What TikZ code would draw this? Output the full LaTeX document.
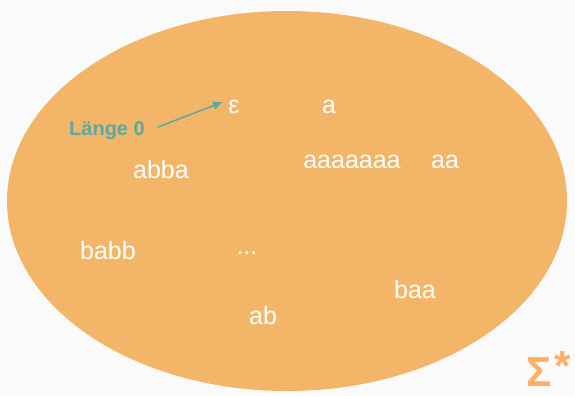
\documentclass[tikz,border=0pt]{standalone}
\usepackage{fontspec}
\setmainfont{Liberation Sans}
\usetikzlibrary{arrows.meta}
\definecolor{bgc}{HTML}{FAFAFA}
\definecolor{setc}{HTML}{F3B567}
\definecolor{tealc}{HTML}{5AA9A2}
\definecolor{sigc}{HTML}{FFAF5F}
\tikzset{
  word/.style={text=white, font=\fontsize{25}{30}\selectfont, inner sep=0pt, anchor=base},
}
\begin{document}
\begin{tikzpicture}[x=1pt,y=-1pt]
\useasboundingbox[fill=bgc] (0,0) rectangle (575,396);
\fill[setc] (287,201) ellipse [x radius=280, y radius=190];
\node[word] (eps) at (234,113) {ε};
\node[word] (a) at (329,113) {a};
\node[word] (a7) at (352,168) {aaaaaaa};
\node[word] (aa) at (445,168) {aa};
\node[word] (abba) at (161,178) {abba};
\node[word] (babb) at (108,259) {babb};
\node[word] (dots) at (247,254) {...};
\node[word] (baa) at (415,298) {baa};
\node[word] (ab) at (263,324) {ab};
\node[text=tealc, font=\bfseries\fontsize{20}{24}\selectfont, inner sep=0pt, anchor=base] (len) at (107,135) {Länge 0};
\coordinate (tail) at (158,127);
\coordinate (tip) at (223,102);
\draw[tealc, line width=1.5pt, -{Latex[length=10pt,width=9pt]}] (tail) -- (tip);
\node[text=sigc, font=\bfseries\fontsize{42}{48}\selectfont, inner sep=0pt, anchor=base west] (sig) at (526,386) {Σ\kern3pt\raisebox{6pt}{*}};
\end{tikzpicture}
\end{document}
